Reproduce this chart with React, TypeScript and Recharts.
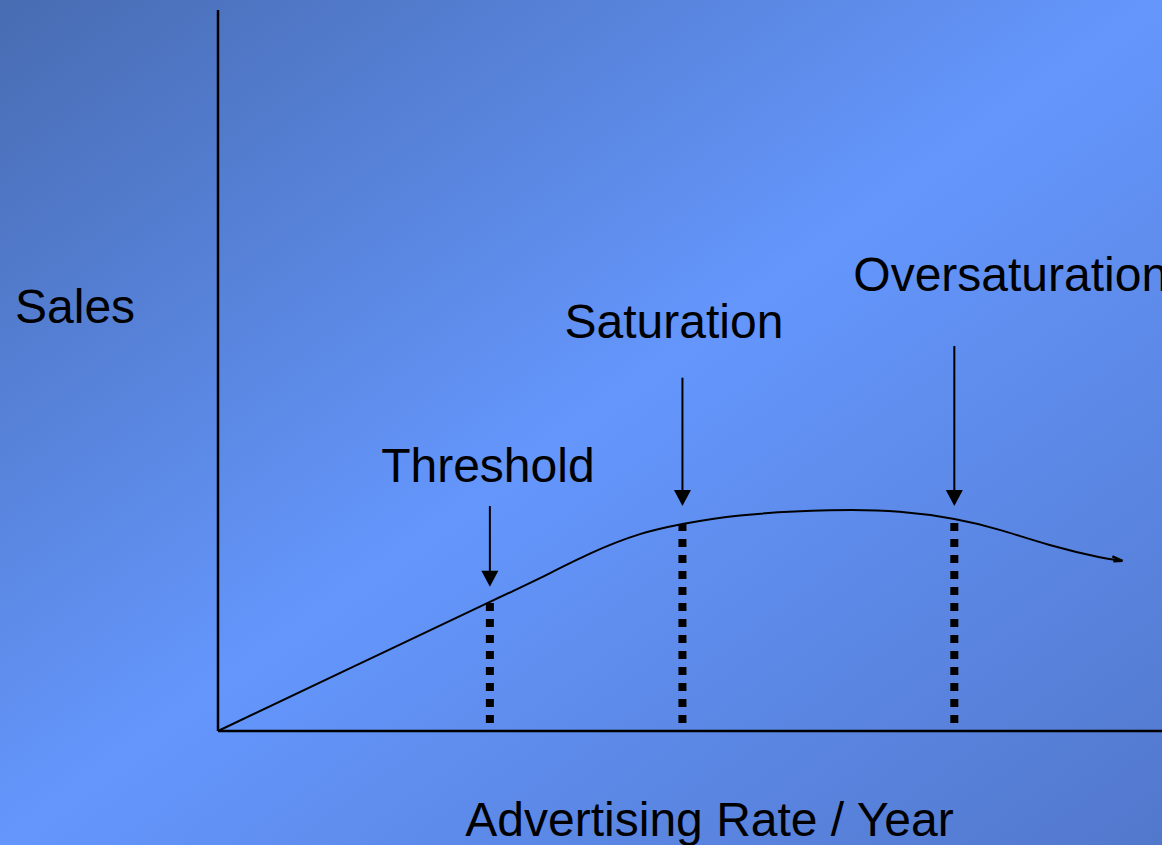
import React from "react";
import { LineChart, Line, XAxis, YAxis, ReferenceLine, Label } from "recharts";

// Sales response curve: advertising rate (x) vs sales (y), both on a 0-100 scale
const adRate = [0, 14.4, 28.8, 34.1, 39.4, 44.7, 49.2, 55.3, 64.8, 72.2, 78.0, 82.8, 88.1, 93.4, 95.8];
const sales = [0, 8.95, 17.9, 21.2, 24.6, 27.3, 28.7, 29.9, 30.6, 30.4, 29.4, 27.9, 25.8, 24.1, 23.6];

// Marked phases of the curve
const phaseNames = ["Threshold", "Saturation", "Oversaturation"];
const phaseRates = [28.8, 49.2, 78.0];
// callout arrows: where each arrow starts and where its tip ends (sales units)
const arrowFrom = [31.2, 49.0, 53.4];
const arrowTo = [20.0, 31.2, 31.2];

const curve = adRate.map((x, i) => ({ x, sales: sales[i] }));
const salesAt = (x: number) => curve.find((p) => p.x === x)?.sales ?? 0;

const FONT = "'Liberation Sans', Arial, sans-serif";
const FONT_SIZE = 48;

// label placement relative to the arrow's tail
const calloutText: Record<string, { dx: number; dy: number; anchor: "start" | "middle" }> = {
  Threshold: { dx: -2, dy: -24, anchor: "middle" },
  Saturation: { dx: -8.5, dy: -40, anchor: "middle" },
  Oversaturation: { dx: -101, dy: -55, anchor: "start" },
};

const makeArrow = (name: string) => (props: any) => {
  const { x1, y1, y2 } = props;
  const t = calloutText[name];
  return (
    <g>
      <line x1={x1} y1={y1} x2={x1} y2={y2 - 14} stroke="#000" strokeWidth={2} />
      <polygon points={`${x1 - 8.5},${y2 - 16} ${x1 + 8.5},${y2 - 16} ${x1},${y2}`} fill="#000" />
      <text
        x={x1 + t.dx}
        y={y1 + t.dy}
        textAnchor={t.anchor}
        fontSize={FONT_SIZE}
        fontFamily={FONT}
        fill="#000"
      >
        {name}
      </text>
    </g>
  );
};

// small arrow barb at the end of the curve
const EndDot = (props: any) => {
  const { cx, cy, index } = props;
  if (index !== curve.length - 1) return <g key={`d${index}`} />;
  return (
    <path
      key={`d${index}`}
      d={`M${cx - 10},${cy - 4.5} L${cx},${cy} L${cx - 9},${cy + 0.5}`}
      fill="none"
      stroke="#000"
      strokeWidth={2.5}
    />
  );
};

export default function App() {
  return (
    <div
      style={{
        position: "absolute",
        left: 0,
        top: 0,
        width: 1162,
        height: 845,
        background: "linear-gradient(to bottom right, #486cb2 0%, #6496fc 50%, #5278cc 100%)",
        fontFamily: FONT,
      }}
    >
      <LineChart width={1162} height={845} data={curve} margin={{ top: 10, right: 0, bottom: 0, left: 0 }}>
        <XAxis
          dataKey="x"
          type="number"
          domain={[0, 100]}
          height={114}
          tick={false}
          tickLine={false}
          axisLine={{ stroke: "#000", strokeWidth: 2.5 }}
        >
          <Label
            value="Advertising Rate / Year"
            position="insideBottom"
            offset={9}
            dx={19.5}
            fill="#000"
            fontSize={FONT_SIZE}
            fontFamily={FONT}
          />
        </XAxis>
        <YAxis
          type="number"
          domain={[0, 100]}
          width={218}
          tick={false}
          tickLine={false}
          axisLine={{ stroke: "#000", strokeWidth: 2.5 }}
        >
          <Label
            value="Sales"
            position="insideLeft"
            offset={15}
            dy={-65}
            fill="#000"
            fontSize={FONT_SIZE}
            fontFamily={FONT}
          />
        </YAxis>
        {phaseRates.map((x, i) => (
          <ReferenceLine
            key={`drop-${phaseNames[i]}`}
            segment={[
              { x, y: 0 },
              { x, y: salesAt(x) },
            ]}
            stroke="#000"
            strokeWidth={8}
            strokeDasharray="8 8"
            strokeDashoffset={8}
          />
        ))}
        {phaseRates.map((x, i) => (
          <ReferenceLine
            key={`arrow-${phaseNames[i]}`}
            segment={[
              { x, y: arrowFrom[i] },
              { x, y: arrowTo[i] },
            ]}
            stroke="#000"
            shape={makeArrow(phaseNames[i])}
          />
        ))}
        <Line
          type="natural"
          dataKey="sales"
          stroke="#000"
          strokeWidth={2}
          dot={EndDot}
          activeDot={false}
          isAnimationActive={false}
        />
      </LineChart>
    </div>
  );
}
